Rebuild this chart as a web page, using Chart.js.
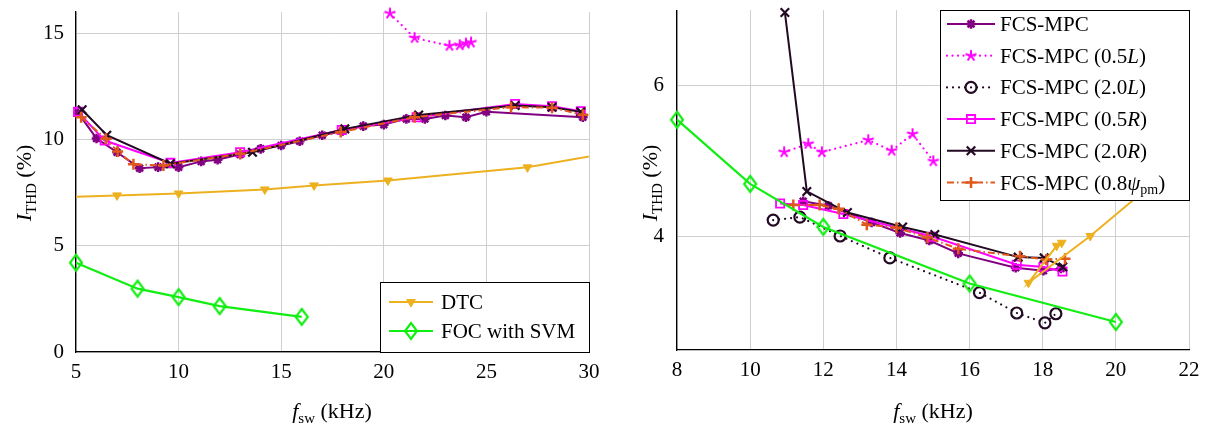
<!DOCTYPE html>
<html>
<head>
<meta charset="utf-8">
<script src="https://cdn.jsdelivr.net/npm/chart.js@4.4.1/dist/chart.umd.min.js"></script>
<style>
html, body { margin: 0; padding: 0; background: #fff; }
#wrap { position: relative; width: 1214px; height: 434px; }
#wrap canvas { position: absolute; top: 0; }
</style>
</head>
<body>
<div id="wrap">
  <canvas id="leftChart" width="607" height="434" style="left:0"></canvas>
  <canvas id="rightChart" width="607" height="434" style="left:607px"></canvas>
</div>
<script>
// ---- left panel data ----
const leftXTicks = [5, 10, 15, 20, 25, 30];
const leftYTicks = [0, 5, 10, 15];

const lMpcX = [5.1, 6.0, 7.0, 8.1, 9.0, 10.0, 11.1, 11.9, 13.0, 14.0, 15.0, 15.9, 17.0, 18.0, 19.0, 20.0, 21.1, 22.0, 23.0, 24.0, 25.0, 29.7];
const lMpcY = [11.25, 10.05, 9.4, 8.65, 8.7, 8.7, 8.97, 9.05, 9.3, 9.56, 9.72, 9.92, 10.2, 10.4, 10.63, 10.7, 10.97, 10.97, 11.13, 11.05, 11.31, 11.05];
const lHalfLX = [20.3, 21.5, 23.2, 23.7, 24.0, 24.25];
const lHalfLY = [15.93, 14.78, 14.41, 14.44, 14.52, 14.57];
const lHalfRX = [5.1, 6.4, 9.6, 13.0, 17.95, 21.6, 26.4, 28.2, 29.6];
const lHalfRY = [11.3, 9.95, 8.9, 9.4, 10.45, 11.05, 11.67, 11.57, 11.33];
const lTwoRX = [5.3, 6.5, 9.6, 13.6, 18.1, 21.7, 26.4, 28.2, 29.6];
const lTwoRY = [11.4, 10.2, 8.86, 9.4, 10.5, 11.15, 11.6, 11.52, 11.3];
const lPsiX = [5.25, 6.46, 7.03, 7.8, 9.26, 13.0, 17.9, 21.5, 26.2, 28.2, 29.7];
const lPsiY = [11.05, 10.03, 9.44, 8.83, 8.78, 9.33, 10.35, 11.05, 11.52, 11.5, 11.16];
const lDtcX = [4.5, 7, 10, 14.2, 16.6, 20.2, 27, 31.5];
const lDtcY = [7.29, 7.37, 7.46, 7.65, 7.84, 8.07, 8.69, 9.45];
const lFocX = [5, 8, 10, 12, 16];
const lFocY = [4.2, 2.98, 2.58, 2.16, 1.65];

// ---- right panel data ----
const rightXTicks = [8, 10, 12, 14, 16, 18, 20, 22];
const rightYTicks = [4, 6];

const rMpcX = [11.45, 12.14, 13.32, 14.1, 14.9, 15.69, 17.26, 18.02, 18.5];
const rMpcY = [4.47, 4.41, 4.19, 4.05, 3.95, 3.78, 3.59, 3.55, 3.58];
const rHalfLX = [10.93, 11.59, 11.96, 13.23, 13.87, 14.44, 15.01];
const rHalfLY = [5.12, 5.23, 5.12, 5.28, 5.14, 5.36, 5.0];
const rTwoLX = [10.63, 11.36, 12.46, 13.82, 16.27, 17.29, 18.06, 18.36];
const rTwoLY = [4.22, 4.26, 4.01, 3.72, 3.26, 2.99, 2.86, 2.98];
const rHalfRX = [10.82, 11.45, 12.55, 15.0, 17.29, 18.02, 18.54];
const rHalfRY = [4.44, 4.42, 4.3, 4.0, 3.63, 3.6, 3.54];
const rTwoRX = [10.95, 11.55, 12.66, 14.17, 15.05, 17.33, 18.04, 18.55];
const rTwoRY = [6.97, 4.6, 4.32, 4.13, 4.03, 3.73, 3.72, 3.6];
const rPsiX = [11.18, 11.9, 12.42, 13.19, 14.0, 14.85, 15.69, 17.38, 18.1, 18.61];
const rPsiY = [4.42, 4.42, 4.37, 4.16, 4.12, 3.99, 3.84, 3.74, 3.7, 3.71];
const rDtcX = [18.52, 18.38, 17.61, 19.3, 21.5];
const rDtcY = [3.92, 3.88, 3.39, 4.01, 4.9];
const rFocX = [8, 10, 12, 16, 20];
const rFocY = [5.55, 4.7, 4.13, 3.38, 2.87];

const SERIF = '"Liberation Serif", "Times New Roman", serif';
const PURPLE = '#800080', MAGENTA = '#ff00ff', DARK = '#230a23', ORANGE = '#e0581c', GOLD = '#edb120', GREEN = '#11ee11';

// pgfplots-like marks that chart.js lacks
function makeStar(color) {
    const c = document.createElement('canvas');
    c.width = 14; c.height = 14;
    const g = c.getContext('2d');
    g.strokeStyle = color; g.lineWidth = 2;
    g.beginPath();
    for (let k = 0; k < 5; k++) {
        const a = -Math.PI / 2 + k * 2 * Math.PI / 5;
        g.moveTo(7, 7);
        g.lineTo(7 + 5.8 * Math.cos(a), 7 + 5.8 * Math.sin(a));
    }
    g.stroke();
    return c;
}
function makeDiamond(color) {
    const c = document.createElement('canvas');
    c.width = 16; c.height = 20;
    const g = c.getContext('2d');
    g.strokeStyle = color; g.lineWidth = 2.2;
    g.beginPath();
    g.moveTo(8, 2); g.lineTo(14, 10); g.lineTo(8, 18); g.lineTo(2, 10); g.closePath();
    g.stroke();
    return c;
}
const starMark = makeStar(MAGENTA);
const diamondMark = makeDiamond(GREEN);

const styles = {
    mpc:   { borderColor: PURPLE, borderWidth: 2, pointStyle: 'star', pointRadius: 4.8, pointBorderWidth: 2.5, pointBorderColor: PURPLE, pointBackgroundColor: PURPLE },
    halfL: { borderColor: MAGENTA, borderWidth: 2.2, borderDash: [0.01, 5.5], borderCapStyle: 'round', pointStyle: starMark, pointRadius: 6 },
    twoL:  { borderColor: DARK, borderWidth: 2.2, borderDash: [0.01, 6], borderCapStyle: 'round', pointStyle: 'circle', pointRadius: 5.5, pointBorderWidth: 2.2, pointBorderColor: DARK, pointBackgroundColor: 'rgba(0,0,0,0)' },
    halfR: { borderColor: MAGENTA, borderWidth: 2, pointStyle: 'rect', pointRadius: 5.8, pointBorderWidth: 1.8, pointBorderColor: MAGENTA, pointBackgroundColor: 'rgba(0,0,0,0)' },
    twoR:  { borderColor: DARK, borderWidth: 2, pointStyle: 'crossRot', pointRadius: 6, pointBorderWidth: 2.2, pointBorderColor: DARK },
    psi:   { borderColor: ORANGE, borderWidth: 2, borderDash: [7, 3, 1.5, 3], pointStyle: 'cross', pointRadius: 5.5, pointBorderWidth: 2.5, pointBorderColor: ORANGE },
    dtc:   { borderColor: GOLD, borderWidth: 2, pointStyle: 'triangle', pointRotation: 180, pointRadius: 5, pointBorderWidth: 1, pointBorderColor: GOLD, pointBackgroundColor: GOLD },
    foc:   { borderColor: GREEN, borderWidth: 2.2, pointStyle: diamondMark, pointRadius: 8 }
};

function series(xs, ys, style, order, clip) {
    return Object.assign({
        data: xs.map((x, i) => ({ x: x, y: ys[i] })),
        showLine: true, fill: false, tension: 0, order: order,
        clip: clip || { left: 10, right: 0, top: 12, bottom: 0 }
    }, style);
}

function drawRich(ctx, segs, x, y, size, align) {
    const fonts = segs.map(s => s[1] === 'i' ? 'italic ' + size + 'px ' + SERIF
        : s[1] === 's' ? Math.round(size * 0.68) + 'px ' + SERIF : size + 'px ' + SERIF);
    let w = 0;
    segs.forEach((s, i) => { ctx.font = fonts[i]; w += ctx.measureText(s[0]).width; });
    let cx = align === 'center' ? x - w / 2 : x;
    ctx.textBaseline = 'alphabetic';
    ctx.textAlign = 'left';
    segs.forEach((s, i) => {
        ctx.font = fonts[i];
        ctx.fillText(s[0], cx, s[1] === 's' ? y + size * 0.22 : y);
        cx += ctx.measureText(s[0]).width;
    });
}

const yTitle = [['I', 'i'], ['THD', 's'], [' (%)', 'n']];
const xTitle = [['f', 'i'], ['sw', 's'], [' (kHz)', 'n']];

function decoPlugin(cfg) {
    return {
        id: 'deco',
        afterDraw(chart) {
            const ctx = chart.ctx;
            ctx.save();
            ctx.fillStyle = '#000';
            drawRich(ctx, xTitle, cfg.xTitlePos[0], cfg.xTitlePos[1], 22, 'center');
            ctx.translate(cfg.yTitlePos[0], cfg.yTitlePos[1]);
            ctx.rotate(-Math.PI / 2);
            drawRich(ctx, yTitle, 0, 7, 22, 'center');
            ctx.restore();

            const L = cfg.legend;
            ctx.save();
            ctx.fillStyle = '#fff';
            ctx.fillRect(L.x, L.y, L.w, L.h);
            ctx.strokeStyle = '#000'; ctx.lineWidth = 1;
            ctx.strokeRect(L.x + 0.5, L.y + 0.5, L.w, L.h);
            L.items.forEach((it, k) => {
                const ds = chart.data.datasets[it.ds];
                const cy = L.y + L.first + k * L.step;
                ctx.save();
                ctx.strokeStyle = ds.borderColor;
                ctx.lineWidth = ds.borderWidth;
                ctx.setLineDash(ds.borderDash || []);
                ctx.lineCap = ds.borderCapStyle || 'butt';
                ctx.beginPath();
                ctx.moveTo(L.x + L.lx0, cy); ctx.lineTo(L.x + L.lx1, cy);
                ctx.stroke();
                ctx.setLineDash([]);
                ctx.lineCap = 'butt';
                ctx.strokeStyle = ds.pointBorderColor || ds.borderColor;
                ctx.fillStyle = ds.pointBackgroundColor || ds.borderColor;
                ctx.lineWidth = ds.pointBorderWidth || 1;
                Chart.helpers.drawPoint(ctx, {
                    pointStyle: ds.pointStyle, rotation: ds.pointRotation || 0,
                    radius: ds.pointRadius, borderWidth: ds.pointBorderWidth || 1
                }, L.x + (L.lx0 + L.lx1) / 2, cy);
                ctx.restore();
                ctx.fillStyle = '#000';
                drawRich(ctx, it.segs, L.x + L.tx, cy + 7, L.size, 'left');
            });
            ctx.restore();
        }
    };
}

function panel(id, cfg) {
    const tickFont = { family: SERIF, size: 21 };
    new Chart(document.getElementById(id), {
        type: 'scatter',
        data: { datasets: cfg.datasets },
        options: {
            responsive: false,
            animation: false,
            devicePixelRatio: 1,
            layout: { padding: cfg.pad },
            plugins: { legend: { display: false }, tooltip: { enabled: false } },
            scales: {
                x: {
                    type: 'linear', min: cfg.xMin, max: cfg.xMax,
                    afterBuildTicks: s => { s.ticks = cfg.xTicks.map(v => ({ value: v })); },
                    afterFit: s => { s.height = cfg.xH; s.paddingLeft = 0; s.paddingRight = 0; },
                    grid: { color: '#cfcfcf', drawTicks: false },
                    border: { color: '#000', width: 1.3 },
                    ticks: { color: '#000', font: tickFont, padding: 8, maxRotation: 0 }
                },
                y: {
                    type: 'linear', min: cfg.yMin, max: cfg.yMax,
                    afterBuildTicks: s => { s.ticks = cfg.yTicks.map(v => ({ value: v })); },
                    afterFit: s => { s.width = cfg.yW; s.paddingTop = 0; s.paddingBottom = 0; },
                    grid: { color: '#cfcfcf', drawTicks: false },
                    border: { color: '#000', width: 1.3 },
                    ticks: { color: '#000', font: tickFont, padding: cfg.yPad }
                }
            }
        },
        plugins: [decoPlugin(cfg)]
    });
}

const strictX = { left: 0, right: 0, top: 12, bottom: 0 };

panel('leftChart', {
    datasets: [
        series(lMpcX, lMpcY, styles.mpc, 7),
        series(lHalfLX, lHalfLY, styles.halfL, 6),
        series(lHalfRX, lHalfRY, styles.halfR, 5),
        series(lTwoRX, lTwoRY, styles.twoR, 4),
        series(lPsiX, lPsiY, styles.psi, 3),
        series(lDtcX, lDtcY, styles.dtc, 2, strictX),
        series(lFocX, lFocY, styles.foc, 1)
    ],
    xMin: 5, xMax: 30, yMin: 0, yMax: 16,
    xTicks: leftXTicks, yTicks: leftYTicks,
    pad: { left: 0, right: 18, top: 12, bottom: 0 },
    xH: 82, yW: 76, yPad: 12,
    xTitlePos: [332, 418], yTitlePos: [24, 183],
    legend: {
        x: 380, y: 282, w: 209, h: 70, first: 20, step: 29,
        lx0: 9, lx1: 53, tx: 61, size: 21,
        items: [
            { ds: 5, segs: [['DTC', 'n']] },
            { ds: 6, segs: [['FOC with SVM', 'n']] }
        ]
    }
});

panel('rightChart', {
    datasets: [
        series(rMpcX, rMpcY, styles.mpc, 8),
        series(rHalfLX, rHalfLY, styles.halfL, 7),
        series(rTwoLX, rTwoLY, styles.twoL, 6),
        series(rHalfRX, rHalfRY, styles.halfR, 5),
        series(rTwoRX, rTwoRY, styles.twoR, 4),
        series(rPsiX, rPsiY, styles.psi, 3),
        series(rDtcX, rDtcY, styles.dtc, 2),
        series(rFocX, rFocY, styles.foc, 1)
    ],
    xMin: 8, xMax: 22, yMin: 2.5, yMax: 7,
    xTicks: rightXTicks, yTicks: rightYTicks,
    pad: { left: 0, right: 25, top: 10, bottom: 0 },
    xH: 84, yW: 70, yPad: 13,
    xTitlePos: [326, 418], yTitlePos: [43, 183],
    legend: {
        x: 333, y: 10, w: 249, h: 190, first: 14, step: 31.7,
        lx0: 7, lx1: 55, tx: 60, size: 21,
        items: [
            { ds: 0, segs: [['FCS-MPC', 'n']] },
            { ds: 1, segs: [['FCS-MPC (0.5', 'n'], ['L', 'i'], [')', 'n']] },
            { ds: 2, segs: [['FCS-MPC (2.0', 'n'], ['L', 'i'], [')', 'n']] },
            { ds: 3, segs: [['FCS-MPC (0.5', 'n'], ['R', 'i'], [')', 'n']] },
            { ds: 4, segs: [['FCS-MPC (2.0', 'n'], ['R', 'i'], [')', 'n']] },
            { ds: 5, segs: [['FCS-MPC (0.8', 'n'], ['\u03C8', 'i'], ['pm', 's'], [')', 'n']] }
        ]
    }
});
</script>
</body>
</html>
